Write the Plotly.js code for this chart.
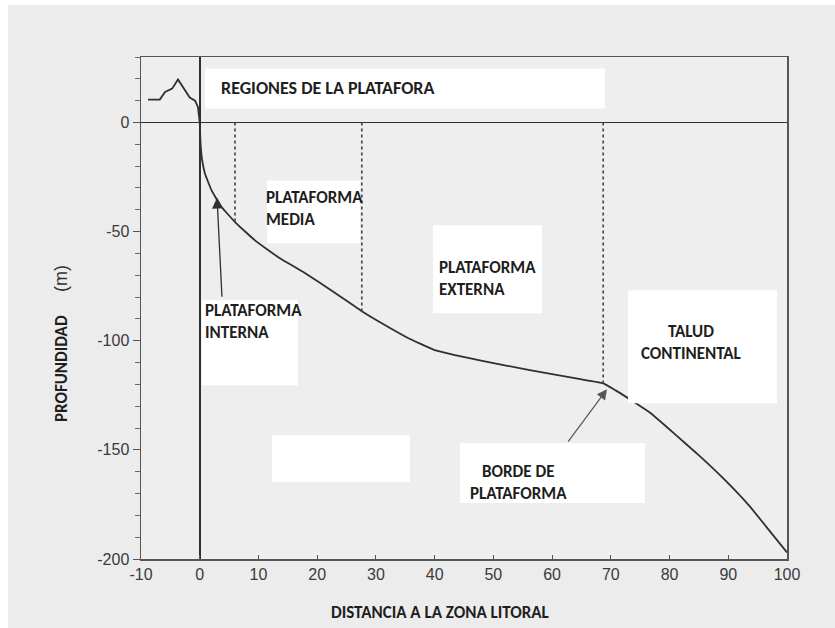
<!DOCTYPE html>
<html>
<head>
<meta charset="utf-8">
<script src="https://cdn.plot.ly/plotly-3.0.1.min.js"></script>
<style>
html,body{margin:0;padding:0;background:#ffffff;}
#chart{position:absolute;left:8px;top:5px;width:827px;height:623px;}
</style>
</head>
<body>
<div id="chart"></div>
<script>
// Land profile (elevation above sea level)
const landX = [-8.8, -6.8, -5.9, -4.7, -3.7, -2.5, -1.7, -0.8, -0.3, 0];
const landY = [10.5, 10.5, 14, 15.5, 19.7, 14.6, 11.4, 10, 7, 0];
// Sea floor profile
const seaX = [0, 0.15, 0.4, 0.9, 2, 3.5, 6, 9.4, 13.3, 17.9, 23, 27.6, 31, 35.3, 40, 47.7, 56.2, 64.8, 68.7, 71.6, 76.7, 81, 85.2, 89.5, 93.7, 97, 100];
const seaY = [0, -10, -17, -23.5, -31, -38, -45.6, -54, -61.6, -69, -78, -86.5, -92, -98.5, -104.3, -109, -113.5, -117.6, -119.5, -124, -133, -143, -153, -164, -176, -187, -197];
// Region boundaries (dotted lines)
const boundaryX = [6, 27.6, 68.7];
const boundaryDepth = [-45.6, -86.5, -119.5];
// Ticks
const xTicks = [-10, 0, 10, 20, 30, 40, 50, 60, 70, 80, 90, 100];
const xTickText = ['-10', '0', '10', '20', '30', '40', '50', '60', '70', '80', '90', '100'];
const yTicks = [-200, -150, -100, -50, 0];
const yTickText = ['-200', '-150', '-100', '-50', '0'];

const ink = '#303030';
const traces = [
  {x: landX, y: landY, mode: 'lines', line: {color: ink, width: 1.8}, hoverinfo: 'skip', showlegend: false},
  {x: seaX, y: seaY, mode: 'lines', line: {color: ink, width: 1.8, shape: 'spline', smoothing: 0.3}, hoverinfo: 'skip', showlegend: false}
];
boundaryX.forEach((bx, i) => {
  traces.push({x: [bx, bx], y: [0, boundaryDepth[i]], mode: 'lines',
    line: {color: '#4a4a4a', width: 1.7, dash: 'dot'}, hoverinfo: 'skip', showlegend: false});
});

// pixel (page) -> data helpers for decorative boxes/labels
const PX0 = 199.7, PXU = 5.873, PY0 = 122, PYU = 2.185;
const dx = p => (p - PX0) / PXU;
const dy = p => (PY0 - p) / PYU;
function box(x0, y0, x1, y1) {
  return {type: 'rect', xref: 'x', yref: 'y', x0: dx(x0), x1: dx(x1), y0: dy(y0), y1: dy(y1),
    fillcolor: '#ffffff', line: {width: 0}, layer: 'above'};
}
const shapes = [
  box(205, 68, 605, 108),
  box(267, 180, 360, 243),
  box(433, 225, 542, 313),
  box(628, 290, 777, 403),
  box(202, 300, 298, 385),
  box(272, 435, 410, 482),
  box(460, 443, 645, 503)
];

const lblFam = 'Carlito, Lato, "Open Sans", sans-serif';
function lbl(text, px, py, align, xanchor, size) {
  return {text: text, x: dx(px), y: dy(py), xref: 'x', yref: 'y', showarrow: false,
    font: {family: lblFam, size: size || 17, color: '#1e1e1e'}, align: align, xanchor: xanchor, yanchor: 'middle'};
}
const annotations = [
  lbl('<b>REGIONES DE LA PLATAFORA</b>', 219, 87, 'left', 'left', 18),
  lbl('<b>PLATAFORMA<br>MEDIA</b>', 264, 208, 'left', 'left'),
  lbl('<b>PLATAFORMA<br>EXTERNA</b>', 437, 278, 'left', 'left'),
  lbl('<b>TALUD<br>CONTINENTAL</b>', 691, 342, 'center', 'center'),
  lbl('<b>PLATAFORMA<br>INTERNA</b>', 203, 321, 'left', 'left'),
  lbl('<b>BORDE DE<br>PLATAFORMA</b>', 518, 482, 'center', 'center'),
  {text: '', x: dx(217), y: dy(197), ax: dx(222), ay: dy(298), xref: 'x', yref: 'y', axref: 'x', ayref: 'y',
    showarrow: true, arrowhead: 2, arrowsize: 1.7, arrowwidth: 1.3, arrowcolor: ink},
  {text: '', x: dx(607), y: dy(389), ax: dx(567), ay: dy(443), xref: 'x', yref: 'y', axref: 'x', ayref: 'y',
    showarrow: true, arrowhead: 2, arrowsize: 1.7, arrowwidth: 1.2, arrowcolor: '#555'},
  // axis titles
  {text: '<b>DISTANCIA A LA ZONA LITORAL</b>', xref: 'paper', yref: 'paper', x: (440 - 141) / 646, y: -(612 - 559) / 502,
    showarrow: false, xanchor: 'center', yanchor: 'middle', font: {family: lblFam, size: 17, color: '#1e1e1e'}},
  {text: '<b>PROFUNDIDAD</b>', xref: 'paper', yref: 'paper', x: -(141 - 61) / 646, y: (559 - 369) / 502, textangle: -90,
    showarrow: false, xanchor: 'center', yanchor: 'middle', font: {family: lblFam, size: 17, color: '#1e1e1e'}},
  {text: '(m)', xref: 'paper', yref: 'paper', x: -(141 - 61) / 646, y: (559 - 279) / 502, textangle: -90,
    showarrow: false, xanchor: 'center', yanchor: 'middle', font: {family: 'Liberation Sans, Arial, sans-serif', size: 18, color: '#333'}}
];

const tickFont = {family: 'Liberation Sans, Arial, sans-serif', size: 16, color: '#3a3a3a'};
const layout = {
  width: 827, height: 623,
  margin: {l: 133, r: 48, t: 52, b: 69},
  paper_bgcolor: '#ececec', plot_bgcolor: '#eeeeee',
  showlegend: false,
  xaxis: {range: [-10, 100], tickvals: xTicks, ticktext: xTickText, ticks: 'inside', ticklen: 4, tickcolor: '#555',
    showgrid: false, zeroline: true, zerolinecolor: ink, zerolinewidth: 1.6,
    showline: true, linecolor: '#555', linewidth: 1.5, mirror: true, tickfont: tickFont},
  yaxis: {range: [-200, 30], tickvals: yTicks, ticktext: yTickText, ticks: 'outside', ticklen: 7, tickcolor: '#555',
    minor: {dtick: 10, ticks: 'outside', ticklen: 5, tickcolor: '#666', showgrid: false},
    showgrid: false, zeroline: true, zerolinecolor: ink, zerolinewidth: 1.6,
    showline: true, linecolor: '#555', linewidth: 1.5, mirror: true, tickfont: tickFont},
  shapes: shapes,
  annotations: annotations
};

Plotly.newPlot('chart', traces, layout, {displayModeBar: false, staticPlot: true});
</script>
</body>
</html>
